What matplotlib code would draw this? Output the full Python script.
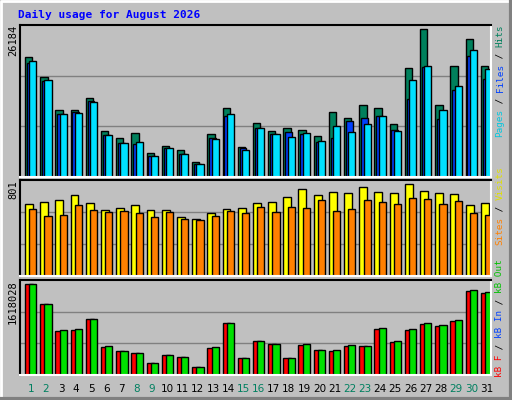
import numpy as np
import matplotlib
matplotlib.use("Agg")
import matplotlib.pyplot as plt

days = list(range(1, 32))
weekend = [1, 2, 8, 9, 15, 16, 22, 23, 29, 30]

# values
hits = [21200, 17770, 11850, 11960, 13920, 8230, 6990, 7880, 4320, 5570, 4860,
        2720, 7700, 12320, 5390, 9650, 8230, 8650, 8410, 7340, 11610, 10540,
        12680, 12320, 9480, 19250, 26184, 12680, 19610, 24400, 19610]
files = [20260, 17060, 11250, 11610, 13390, 7400, 6100, 5920, 3790, 5210, 4150,
         2370, 6870, 10900, 5090, 8710, 7700, 8060, 7700, 6280, 6990, 10010,
         10540, 10900, 8410, 13800, 19490, 10370, 15400, 21380, 17300]
pages = [20490, 17180, 11250, 11430, 13270, 7520, 6100, 6280, 3790, 5090, 4150,
         2370, 6810, 11250, 4860, 8770, 7700, 7170, 7880, 6460, 9120, 8060,
         9480, 10900, 8230, 17120, 19610, 11960, 16050, 22450, 19070]
visits = [627, 644, 662, 705, 636, 575, 592, 618, 575, 575, 514, 496, 548, 583,
          592, 636, 644, 688, 757, 705, 731, 723, 775, 731, 723, 801, 740, 723,
          714, 618, 636]
sites = [583, 522, 531, 618, 575, 557, 566, 548, 514, 557, 496, 488, 522, 566,
         548, 601, 557, 601, 592, 662, 566, 583, 662, 644, 627, 679, 670, 627,
         653, 548, 531]
kb_f = [1618028, 1262000, 782000, 800000, 995000, 498000, 427000, 391000,
        213000, 356000, 320000, 142000, 480000, 925000, 302000, 605000, 551000,
        302000, 533000, 445000, 427000, 516000, 516000, 818000, 587000, 800000,
        907000, 871000, 960000, 1499000, 1458000]
kb_out = [1618028, 1262000, 800000, 818000, 995000, 516000, 427000, 391000,
          213000, 356000, 320000, 142000, 498000, 925000, 302000, 605000,
          551000, 302000, 551000, 445000, 445000, 533000, 516000, 836000,
          605000, 818000, 925000, 889000, 978000, 1511000, 1476000]

bg = "#c0c0c0"
fig = plt.figure(figsize=(5.12, 4.0), dpi=100, facecolor=bg)
W, H = 512.0, 400.0

# 3d-ish outer frame
fig.add_artist(plt.Line2D([1/W, 1/W, 1 - 1/W], [1/H, 1 - 1/H, 1 - 1/H], color="white", lw=2))
fig.add_artist(plt.Line2D([1/W, 1 - 1/W, 1 - 1/W], [1/H, 1/H, 1 - 1/H], color="#808080", lw=3))

fig.text(18/W, 1 - 15/H, "Daily usage for August 2026", color="#0000ff",
         family="DejaVu Sans Mono", weight="bold", fontsize=8, va="center")

x = np.array(days)


def panel(top, bot):
    ax = fig.add_axes([20/W, 1 - bot/H, 471/W, (bot - top)/H], facecolor=bg)
    ax.set_xlim(0.5, 31.5)
    ax.set_xticks([])
    ax.set_yticks([])
    for s in ("top", "left"):
        ax.spines[s].set_color("black")
    for s in ("bottom", "right"):
        ax.spines[s].set_color("white")
    for sp in ax.spines.values():
        sp.set_linewidth(1.5)
    return ax


def grid(ax, ymax):
    for f in (1/3, 2/3):
        ax.axhline(ymax * f, color="#808080", lw=1, zorder=0)


kw = dict(align="edge", edgecolor="black", linewidth=1)

# top panel
ax1 = panel(25, 177)
ymax1 = 26950
ax1.set_ylim(0, ymax1)
grid(ax1, ymax1)
ax1.bar(x - 0.17, hits, 0.48, color="#00805c", **kw)
ax1.bar(x - 0.05, files, 0.45, color="#0040ff", **kw)
ax1.bar(x + 0.11, pages, 0.47, color="#00e0ff", **kw)

# middle panel
ax2 = panel(180, 276)
ymax2 = 839
ax2.set_ylim(0, ymax2)
grid(ax2, ymax2)
ax2.bar(x - 0.17, visits, 0.52, color="#ffff00", **kw)
ax2.bar(x + 0.11, sites, 0.47, color="#ff8000", **kw)

# bottom panel
ax3 = panel(280, 375)
ymax3 = 1695000
ax3.set_ylim(0, ymax3)
grid(ax3, ymax3)
ax3.bar(x - 0.17, kb_f, 0.52, color="#ff0000", **kw)
ax3.bar(x + 0.11, kb_out, 0.47, color="#00e000", **kw)

# max labels on the left
for label, ytop in (("26184", 25), ("801", 180), ("1618028", 280)):
    fig.text(13/W, 1 - ytop/H, label, rotation=90, va="top", ha="center",
             family="DejaVu Sans Mono", fontsize=7.5, color="black")

# day labels
for d in days:
    xpix = 20 + (d - 0.5 + 0.2) * 471 / 31
    c = "#008060" if d in weekend else "black"
    fig.text(xpix/W, 1 - 389/H, str(d), ha="center", va="center",
             family="DejaVu Sans", fontsize=7.5, color=c)

# colored legend labels on the right (rotated, built from pieces)
fs = 6.7
step = fs * 0.602 * 100 / 72


def side(parts, ystart):
    y = ystart
    for txt, col in parts:
        fig.text(500/W, 1 - y/H, txt, rotation=90, ha="center", va="bottom",
                 family="DejaVu Sans Mono", fontsize=fs, color=col)
        y -= step * len(txt)


side([("Pages", "#00c8e0"), (" / ", "black"), ("Files", "#0040ff"),
      (" / ", "black"), ("Hits", "#00805c")], 137)
side([("Sites", "#ff8000"), (" / ", "black"), ("Visits", "#e0e000")], 245)
side([("kB F", "#ff0000"), (" / ", "black"), ("kB In", "#0040ff"),
      (" / ", "black"), ("kB Out", "#00c000")], 377)

fig.savefig("out.png", dpi=100, facecolor=bg)
